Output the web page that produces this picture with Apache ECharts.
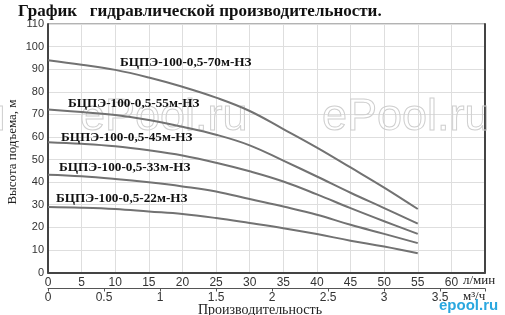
<!DOCTYPE html>
<html><head><meta charset="utf-8">
<script src="https://cdn.jsdelivr.net/npm/echarts@6/dist/echarts.min.js"></script>
<style>html,body{margin:0;padding:0;background:#fff}#c{width:505px;height:315px}</style>
</head><body><div id="c"></div>
<script>
const flowLmin = [0, 5, 10, 15, 20, 25, 30, 35, 40, 45, 50, 55];
const head70 = [94, 92, 89.7, 86.3, 82.2, 77.4, 71.5, 63.5, 55.3, 46.5, 37.6, 28.1];
const head55 = [72.2, 71.0, 69.7, 67.5, 64.5, 61.0, 56.3, 49.5, 42.5, 35.3, 28.5, 21.6];
const head45 = [57.7, 57.0, 55.9, 54.1, 51.8, 48.6, 44.8, 40.3, 34.6, 28.5, 22.7, 17.1];
const head33 = [43.3, 42.6, 41.4, 39.9, 38.1, 35.9, 32.5, 29.2, 25.6, 21.1, 17.1, 13.0];
const head22 = [29.0, 28.7, 28.1, 27.0, 25.9, 24.1, 21.9, 19.6, 17.0, 14.1, 11.5, 8.5];
const seriesNames = ['БЦПЭ-100-0,5-70м-НЗ','БЦПЭ-100-0,5-55м-НЗ','БЦПЭ-100-0,5-45м-НЗ','БЦПЭ-100-0,5-33м-НЗ','БЦПЭ-100-0,5-22м-НЗ'];
const title = 'График   гидравлической производительности.';
const yName = 'Высота подъема, м';
const xName = 'Производительность';
const unitL = 'л/мин';
const unitM = 'м³/ч';

const allHeads = [head70, head55, head45, head33, head22];
const chart = echarts.init(document.getElementById('c'), null, {renderer:'canvas'});
const lineColor = '#727272';
const sans = 'Liberation Sans, Arial, sans-serif';
const serif = 'Liberation Serif, Times New Roman, serif';
const labelPos = [[120,63],[68,104],[61,138],[59,168],[56,199]];

const graphics = [
  {type:'text', left:18, top:3, z:10, style:{text:title, font:'bold 17px '+serif, fill:'#111'}},
  {type:'text', x:463, y:281, z:10, style:{text:unitL, font:'13px '+serif, fill:'#222', textVerticalAlign:'middle'}},
  {type:'text', x:463, y:297, z:10, style:{text:unitM, font:'13px '+serif, fill:'#222', textVerticalAlign:'middle'}},
  {type:'text', x:260, y:310, z:10, style:{text:xName, font:'14px '+serif, fill:'#222', textAlign:'center', textVerticalAlign:'middle'}},
  {type:'text', x:13, y:152, rotation:Math.PI/2, z:10, style:{text:yName, font:'13px '+serif, fill:'#222', textAlign:'center', textVerticalAlign:'middle'}},
];
[-162, 80, 322].forEach(x => graphics.push({type:'text', x:x, y:95, z:1, silent:true,
  style:{text:'ePool.ru', font:'45px '+sans, fill:'rgba(255,255,255,0)', stroke:'#cfcfcf', lineWidth:1}}));
graphics.push({type:'text', x:439, y:298, z:11, style:{text:'epool.ru', font:'bold 15px '+sans, fill:'#2aa7df'}});
seriesNames.forEach((n,i) => graphics.push({type:'text', x:labelPos[i][0], y:labelPos[i][1], z:12, scaleX:1.1,
  style:{text:n, font:'bold 12px '+serif, fill:'#111', textVerticalAlign:'middle'}}));

chart.setOption({
  animation:false,
  grid:{left:48, top:24, right:20, bottom:42.5, show:true, borderColor:'#666', borderWidth:1, backgroundColor:'transparent', outerBoundsMode:'none', containLabel:false},
  xAxis:[
    {type:'value', min:0, max:65, interval:5, position:'bottom',
     axisLine:{lineStyle:{color:'#444', width:2}}, axisTick:{show:false},
     axisLabel:{margin:4, color:'#333', fontFamily:sans, fontSize:12, formatter:v => v===65 ? '' : String(v)},
     splitLine:{show:true, lineStyle:{color:'#dedede', width:1}}},
    {type:'value', min:0, max:3.9, interval:0.5, position:'bottom', offset:16,
     axisLine:{show:true, onZero:false, lineStyle:{color:'#555', width:1}}, axisTick:{show:true, length:3, lineStyle:{color:'#555'}},
     axisLabel:{margin:3, color:'#333', fontFamily:sans, fontSize:12, formatter:v => (v>3.6?'':String(v))},
     splitLine:{show:false}}
  ],
  yAxis:[
    {type:'value', min:0, max:110, interval:10,
     axisLine:{show:true, lineStyle:{color:'#444', width:2}}, axisTick:{show:false},
     axisLabel:{margin:4, color:'#333', fontFamily:sans, fontSize:11},
     splitLine:{show:true, lineStyle:{color:'#dedede', width:1}}},
    {type:'value', min:0, max:110, interval:10, position:'right',
     axisLine:{show:true, onZero:false, lineStyle:{color:'#444', width:2}}, axisTick:{show:false}, axisLabel:{show:false}, splitLine:{show:false}}
  ],
  graphic: graphics,
  series: allHeads.map((h,i) => ({
    type:'line', name:seriesNames[i], xAxisIndex:0, yAxisIndex:0, smooth:0.4, symbol:'none',
    lineStyle:{color:lineColor, width:2}, z:5,
    data: flowLmin.map((q,j) => [q, h[j]])
  }))
});
</script></body></html>
